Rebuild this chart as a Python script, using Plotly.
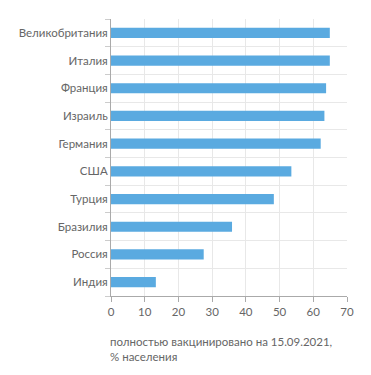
import plotly.graph_objects as go

countries = ["Великобритания", "Италия", "Франция", "Израиль", "Германия",
             "США", "Турция", "Бразилия", "Россия", "Индия"]
values = [64.9, 64.9, 63.8, 63.3, 62.2, 53.5, 48.3, 35.9, 27.5, 13.3]
x_ticks = [0, 10, 20, 30, 40, 50, 60, 70]
caption = "полностью вакцинировано на 15.09.2021,<br>% населения"

pos = list(range(len(countries)))

fig = go.Figure(go.Bar(
    x=values, y=pos, orientation="h",
    marker=dict(color="#5aaae0", line=dict(width=0)),
    width=0.37,
))

font = dict(family="Lato, 'Open Sans', sans-serif", size=11.5, color="#666666")

fig.update_layout(
    width=371, height=375,
    margin=dict(l=101, r=32, t=11, b=87),
    paper_bgcolor="white", plot_bgcolor="white",
    font=font,
    showlegend=False,
    xaxis=dict(
        range=[0, 70], tickvals=x_ticks, showgrid=True, gridcolor="#e8e8e8",
        zeroline=False, showline=True, linecolor="#aaaaaa", linewidth=1,
        ticks="outside", ticklen=5, tickcolor="#aaaaaa",
        tickfont=font, fixedrange=True,
    ),
    yaxis=dict(
        range=[len(countries) - 0.5, -0.5], tickvals=pos, ticktext=countries,
        showgrid=False, zeroline=False, showline=True, linecolor="#aaaaaa",
        linewidth=1, ticks="", tickfont=font,
        minor=dict(tickmode="linear", tick0=0.5, dtick=1, showgrid=True,
                   gridcolor="#e8e8e8", ticks="outside", ticklen=5,
                   tickcolor="#cccccc"),
    ),
    annotations=[dict(
        text=caption, xref="paper", yref="paper", x=0, y=-0.133,
        xanchor="left", yanchor="top", align="left", showarrow=False,
        xshift=-3, font=font,
    )],
)

fig.write_html("out.html")
